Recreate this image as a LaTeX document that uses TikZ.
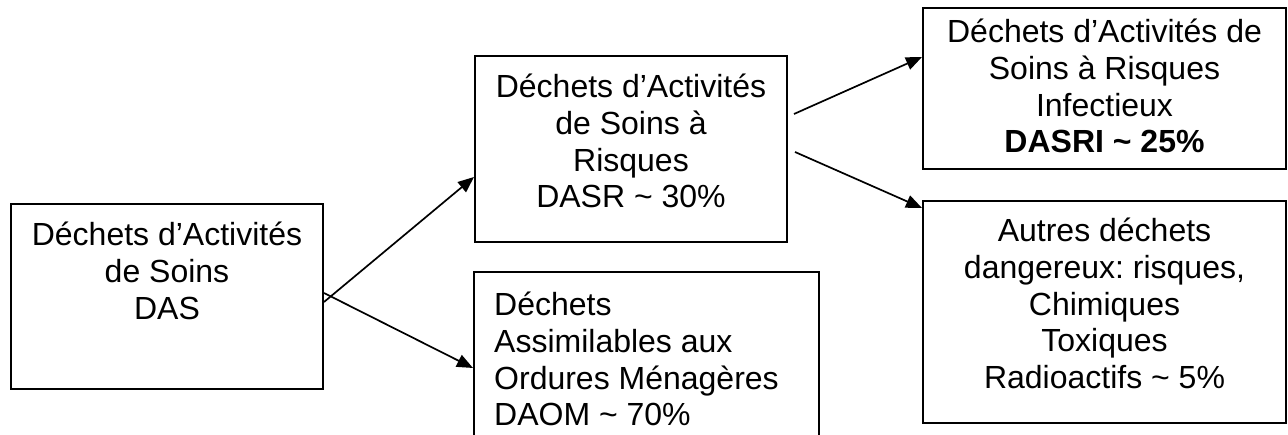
\documentclass[tikz,border=0pt]{standalone}
\usepackage{fontspec}
\setmainfont{Liberation Sans}
\usetikzlibrary{arrows.meta}
\frenchspacing

\tikzset{
  box/.style={draw, line width=2pt, rectangle, inner sep=0pt},
  txt/.style={anchor=north, inner sep=0pt, align=center,
              font=\fontsize{32}{36.7}\selectfont},
  arr/.style={line width=1.7pt, -{Triangle[length=16pt, width=13pt]}}
}

\begin{document}
\begin{tikzpicture}[x=1pt, y=1pt]
  \useasboundingbox (0,0) rectangle (1288,435);
  \clip (0,0) rectangle (1288,435);

  % frames
  \node[box, minimum width=312pt, minimum height=185pt] (das)   at (167,138.5) {};
  \node[box, minimum width=312pt, minimum height=186pt] (dasr)  at (631,286) {};
  \node[box, minimum width=345pt, minimum height=180pt] (daom)  at (646.5,73) {};
  \node[box, minimum width=363pt, minimum height=161pt] (dasri) at (1104.5,346.5) {};
  \node[box, minimum width=363pt, minimum height=222pt] (autres) at (1104.5,123) {};

  % texts
  \node[txt] (das-t) at ([yshift=-19pt]das.north)
    {Déchets d’Activités\\de Soins\\DAS};
  \node[txt] (dasr-t) at ([yshift=-19pt]dasr.north)
    {Déchets d’Activités\\de Soins à\\Risques\\DASR \textasciitilde{} 30\%};
  \node[txt, anchor=north west, align=left] (daom-t) at ([xshift=21pt, yshift=-21pt]daom.north west)
    {Déchets\\Assimilables aux\\Ordures Ménagères\\DAOM \textasciitilde{} 70\%};
  \node[txt] (dasri-t) at ([yshift=-12pt]dasri.north)
    {Déchets d’Activités de\\Soins à Risques\\Infectieux\\\textbf{DASRI \textasciitilde{} 25\%}};
  \node[txt] (autres-t) at ([yshift=-18pt]autres.north)
    {Autres déchets\\dangereux: risques,\\Chimiques\\Toxiques\\Radioactifs \textasciitilde{} 5\%};

  % connectors
  \draw[arr] ([yshift=-5.5pt]das.east) -- ([yshift=-28pt]dasr.west);
  \draw[arr] ([yshift=3.5pt]das.east) -- ([yshift=-6pt]daom.west);
  \draw[arr] ([shift={(6pt,35pt)}]dasr.east) -- ([yshift=31.5pt]dasri.west);
  \draw[arr] ([shift={(7pt,-3pt)}]dasr.east) -- ([yshift=-8pt]autres.north west);
\end{tikzpicture}
\end{document}
